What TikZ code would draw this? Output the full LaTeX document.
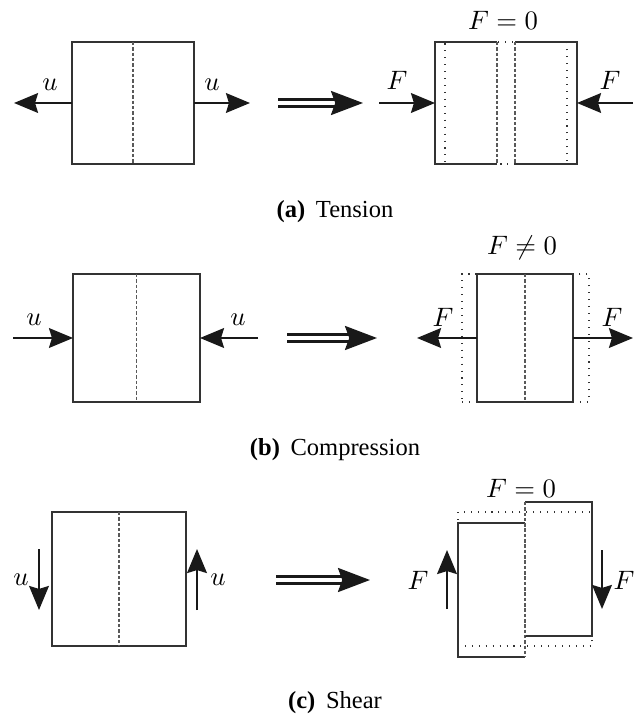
\documentclass[tikz,border=0pt]{standalone}
\usepackage{fontspec}
\newfontfamily\capfont{Liberation Serif}
\usetikzlibrary{arrows.meta, positioning}

\begin{document}
\begin{tikzpicture}[
  x=0.375pt, y=-0.375pt,
  >={Stealth[length=9pt, width=7.4pt, inset=1.1pt]},
  % Specimen outline
  blk/.style={rectangle, inner sep=0pt, outer sep=0pt, draw=black!80, line width=0.45pt},
  % Empty frame, edges drawn by hand
  frm/.style={rectangle, inner sep=0pt, outer sep=0pt},
  % Solid piece edges
  edg/.style={draw=black!80, line width=0.45pt},
  % Dashed cut line
  cut/.style={draw=black!65, line width=0.45pt, dash pattern=on 1.3pt off 0.7pt},
  % Dotted initial shape
  ghost/.style={draw=black!80, line width=0.45pt, dash pattern=on 0.4pt off 2.2pt},
  % Load arrow
  force/.style={->, line width=0.85pt, draw=black!90},
  % Double "leads to" shaft
  dbl/.style={double=white, double distance=1.3pt, line width=1.1pt, draw=black!90},
  % Head of the double arrow
  dblhead/.style={-{Stealth[length=12pt, width=9pt, inset=1.6pt]}, line width=1pt, draw=black!90},
  % Labels
  lbl/.style={inner sep=1pt},
  captxt/.style={font=\fontsize{9.2}{11}\selectfont\capfont}
]
\useasboundingbox (0,0) rectangle (640,718);

%% (a) Tension
\node[blk, minimum width=45.75pt, minimum height=45.75pt] (boxA) at (133,103) {};
\draw[cut] (boxA.north) -- (boxA.south);
\coordinate (uAl) at (14,103);
\coordinate (uAr) at (250,103);
\draw[force] (boxA.west) -- (uAl);
\draw[force] (boxA.east) -- (uAr);
\node[lbl] (tuAl) at (50,85) {$u$};
\node[lbl] (tuAr) at (212,85) {$u$};

% leads to
\coordinate (dA1) at (278,103);
\coordinate (dAm) at (343,103);
\coordinate (dA2) at (363,103);
\draw[dbl] (dA1) -- (dAm);
\draw[dblhead] (dAm) -- (dA2);

% separated halves
\node[frm, ghost, minimum width=45.75pt, minimum height=45.75pt] (origA) at (506,103) {};
\node[frm, minimum width=23.25pt, minimum height=45.75pt] (lpA) at (466,103) {};
\node[frm, minimum width=23.25pt, minimum height=45.75pt] (rpA) at (546,103) {};
\draw[edg] (lpA.north east) -- (lpA.north west) -- (lpA.south west) -- (lpA.south east);
\draw[cut] (lpA.north east) -- (lpA.south east);
\draw[edg] (rpA.north west) -- (rpA.north east) -- (rpA.south east) -- (rpA.south west);
\draw[cut] (rpA.north west) -- (rpA.south west);
\coordinate (fAl) at (379,103);
\coordinate (fAr) at (633,103);
\draw[force] (fAl) -- (lpA.west);
\draw[force] (fAr) -- (rpA.east);
\node[lbl] (tfAl) at (397,80) {$F$};
\node[lbl] (tfAr) at (610,80) {$F$};
\node[lbl] (tfA) at (503,20) {$F=0$};

\node[captxt] (capA) at (335,212) {\textbf{(a)}\hspace{4pt}Tension};

%% (b) Compression
\node[blk, minimum width=47.6pt, minimum height=48pt] (boxB) at (136.5,338) {};
\draw[cut] (boxB.north) -- (boxB.south);
\coordinate (uBl) at (13,338);
\coordinate (uBr) at (258,338);
\draw[force] (uBl) -- (boxB.west);
\draw[force] (uBr) -- (boxB.east);
\node[lbl] (tuBl) at (34,320) {$u$};
\node[lbl] (tuBr) at (238,320) {$u$};

% leads to
\coordinate (dB1) at (287,338);
\coordinate (dBm) at (357,338);
\coordinate (dB2) at (377,338);
\draw[dbl] (dB1) -- (dBm);
\draw[dblhead] (dBm) -- (dB2);

% compressed block
\node[frm, ghost, minimum width=47.6pt, minimum height=48pt] (origB) at (525.5,338) {};
\node[blk, minimum width=36pt, minimum height=48pt] (cmpB) at (525,338) {};
\draw[cut] (cmpB.north) -- (cmpB.south);
\coordinate (fBl) at (417,338);
\coordinate (fBr) at (633,338);
\draw[force] (cmpB.west) -- (fBl);
\draw[force] (cmpB.east) -- (fBr);
\node[lbl] (tfBl) at (443,317) {$F$};
\node[lbl] (tfBr) at (612,317) {$F$};
\node[lbl] (tfB) at (522,248) {$F\neq0$};

\node[captxt] (capB) at (335,450) {\textbf{(b)}\hspace{4pt}Compression};

%% (c) Shear
\node[blk, minimum width=50.25pt, minimum height=50.25pt] (boxC) at (119,579) {};
\draw[cut] (boxC.north) -- (boxC.south);
\coordinate (uCl1) at (39,549);
\coordinate (uCl2) at (39,610);
\coordinate (uCr1) at (197,610);
\coordinate (uCr2) at (197,549);
\draw[force] (uCl1) -- (uCl2);
\draw[force] (uCr1) -- (uCr2);
\node[lbl] (tuCl) at (21,580) {$u$};
\node[lbl] (tuCr) at (218,580) {$u$};

% leads to
\coordinate (dC1) at (276,580);
\coordinate (dCm) at (350,580);
\coordinate (dC2) at (370,580);
\draw[dbl] (dC1) -- (dCm);
\draw[dblhead] (dCm) -- (dC2);

% sheared halves
\node[frm, ghost, minimum width=50.25pt, minimum height=50.25pt] (origC) at (525,579) {};
\node[frm, minimum width=25.1pt, minimum height=50.25pt] (lpC) at (491.5,590) {};
\node[frm, minimum width=25.1pt, minimum height=50.25pt] (rpC) at (558.5,569) {};
\draw[edg] (lpC.north east) -- (lpC.north west) -- (lpC.south west) -- (lpC.south east);
\draw[cut] (lpC.north east) -- (lpC.south east);
\draw[edg] (rpC.north west) -- (rpC.north east) -- (rpC.south east) -- (rpC.south west);
\draw[cut] (rpC.north west) -- (rpC.south west);
\coordinate (fCl1) at (447,609);
\coordinate (fCl2) at (447,550);
\coordinate (fCr1) at (602,550);
\coordinate (fCr2) at (602,609);
\draw[force] (fCl1) -- (fCl2);
\draw[force] (fCr1) -- (fCr2);
\node[lbl] (tfCl) at (418,580) {$F$};
\node[lbl] (tfCr) at (624,580) {$F$};
\node[lbl] (tfC) at (521,488) {$F=0$};

\node[captxt] (capC) at (335,703) {\textbf{(c)}\hspace{4pt}Shear};

\end{tikzpicture}
\end{document}
